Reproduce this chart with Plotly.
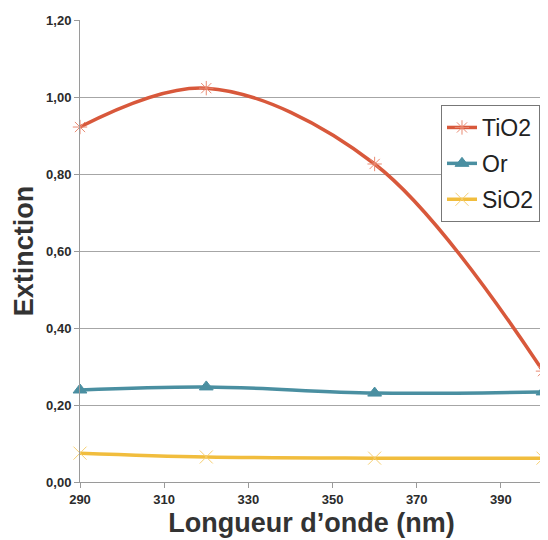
import plotly.graph_objects as go

wavelength = [290, 320, 360, 400]
tio2 = [0.922, 1.023, 0.826, 0.288]
gold = [0.239, 0.247, 0.231, 0.234]
sio2 = [0.075, 0.065, 0.062, 0.062]

x_ticks = [290, 310, 330, 350, 370, 390]
y_ticks = [0, 0.2, 0.4, 0.6, 0.8, 1.0, 1.2]
y_labels = ["0,00", "0,20", "0,40", "0,60", "0,80", "1,00", "1,20"]

# name, values, line colour, marker colour, symbol, size
series = [
    ("TiO2", tio2, "#D8583B", "#E98A72", "asterisk-open", 12),
    ("Or", gold, "#4A8FA1", "#4A8FA1", "triangle-up", 12),
    ("SiO2", sio2, "#F1BD3D", "#F6CF72", "x-thin-open", 13),
]

fig = go.Figure()
for name, vals, col, mcol, sym, size in series:
    fig.add_trace(go.Scatter(
        x=wavelength, y=vals, name=name, legendgroup=name, mode="lines+markers",
        line=dict(color=col, width=3.5, shape="spline", smoothing=1),
        marker=dict(symbol=sym, size=size, color=mcol, line=dict(color=mcol, width=1)),
        cliponaxis=False,
    ))

# the page body adds an 8px margin, so the figure is 8px smaller and margins shifted
fig.update_layout(
    width=540, height=532,
    margin=dict(l=72, r=5, t=12, b=58),
    plot_bgcolor="white", paper_bgcolor="white",
    font=dict(family="Liberation Sans, Arial, sans-serif", color="#333333"),
    showlegend=True,
    legend=dict(
        x=0.9935, y=0.816, xanchor="right", yanchor="top",
        bgcolor="white", bordercolor="#777777", borderwidth=1,
        font=dict(size=23, color="#222222"),
        traceorder="grouped", tracegroupgap=3,
    ),
)

tick_font = dict(size=13, color="#2b2b2b", family="Liberation Sans, Arial, sans-serif", weight="bold")
fig.update_xaxes(
    range=[290, 400], tickvals=x_ticks,
    showgrid=False, zeroline=False,
    showline=True, linecolor="#9a9a9a", linewidth=1,
    ticks="outside", ticklen=5, tickcolor="#9a9a9a",
    tickfont=tick_font,
    title=dict(text="Longueur d’onde (nm)", font=dict(size=27, color="#333333", weight="bold"), standoff=7),
)
fig.update_yaxes(
    range=[0, 1.2], tickvals=y_ticks, ticktext=y_labels,
    showgrid=True, gridcolor="#a6a6a6", gridwidth=1, zeroline=False,
    showline=True, linecolor="#9a9a9a", linewidth=1,
    ticks="outside", ticklen=5, tickcolor="#9a9a9a",
    tickfont=tick_font,
    title=dict(text="Extinction", font=dict(size=27, color="#333333", weight="bold"), standoff=4),
)

fig.write_html("out.html")
